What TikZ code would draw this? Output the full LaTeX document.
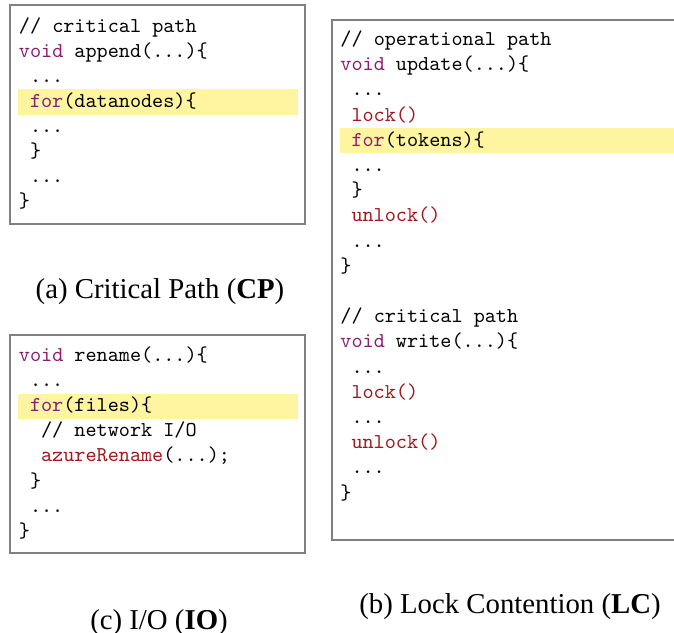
\documentclass[tikz,border=0pt]{standalone}
\usepackage{fontspec}
\newfontfamily\capfont{Liberation Serif}
\definecolor{kwpurple}{HTML}{8B1C6E}
\definecolor{lockred}{HTML}{A1161B}
\definecolor{hlyellow}{HTML}{FFF4A0}
\definecolor{framegray}{HTML}{808080}
\newcommand\kw[1]{\textcolor{kwpurple}{#1}}
\newcommand\lk[1]{\textcolor{lockred}{#1}}
\tikzset{
  code/.style={anchor=base west, inner sep=0pt, font=\ttfamily\fontsize{10}{12}\selectfont},
  frame/.style={draw=framegray, line width=1pt},
  hl/.style={fill=hlyellow, draw=none},
  captext/.style={anchor=base, inner sep=0pt, font=\capfont\fontsize{13.6}{16}\selectfont}
}
\begin{document}
\begin{tikzpicture}[x=0.4725pt,y=-0.4725pt]
\useasboundingbox (0,0) rectangle (674,632);
\clip (0,0) rectangle (674,632);

% ---- (a) critical path ----
\fill[hl] (18,89) rectangle (298,115);
\draw[frame] (10,5) rectangle (305,224);
\node[code] (a0) at (18.5,32) {// critical path};
\node[code] (a1) at (18.5,{32+1*25.1}) {\kw{void} append(...)\{};
\node[code] (a2) at (29.6,{32+2*25.1}) {...};
\node[code] (a3) at (29.6,{32+3*25.1}) {\kw{for}(datanodes)\{};
\node[code] (a4) at (29.6,{32+4*25.1}) {...};
\node[code] (a5) at (29.6,{32+5*25.1}) {\}};
\node[code] (a6) at (29.6,{32+6*25.1}) {...};
\node[code] (a7) at (18.5,{32+7*25.1}) {\}};
\node[captext] (capa) at (160,298) {(a) Critical Path (\textbf{CP})};

% ---- (b) lock contention ----
\fill[hl] (340,128) rectangle (700,153);
\draw[frame] (332,20) rectangle (700,540);
\node[code] (b0) at (340,45.5) {// operational path};
\node[code] (b1) at (340,{45.5+1*25.2}) {\kw{void} update(...)\{};
\node[code] (b2) at (351.1,{45.5+2*25.2}) {...};
\node[code] (b3) at (351.1,{45.5+3*25.2}) {\lk{lock()}};
\node[code] (b4) at (351.1,{45.5+4*25.2}) {\kw{for}(tokens)\{};
\node[code] (b5) at (351.1,{45.5+5*25.2}) {...};
\node[code] (b6) at (351.1,{45.5+6*25.2}) {\}};
\node[code] (b7) at (351.1,{45.5+7*25.2}) {\lk{unlock()}};
\node[code] (b8) at (351.1,{45.5+8*25.2}) {...};
\node[code] (b9) at (340,{45.5+9*25.2}) {\}};
\node[code] (b11) at (340,{45.5+11*25.2}) {// critical path};
\node[code] (b12) at (340,{45.5+12*25.2}) {\kw{void} write(...)\{};
\node[code] (b13) at (351.1,{45.5+13*25.2}) {...};
\node[code] (b14) at (351.1,{45.5+14*25.2}) {\lk{lock()}};
\node[code] (b15) at (351.1,{45.5+15*25.2}) {...};
\node[code] (b16) at (351.1,{45.5+16*25.2}) {\lk{unlock()}};
\node[code] (b17) at (351.1,{45.5+17*25.2}) {...};
\node[code] (b18) at (340,{45.5+18*25.2}) {\}};
\node[captext] (capb) at (510,613) {(b) Lock Contention (\textbf{LC})};

% ---- (c) I/O ----
\fill[hl] (18,394) rectangle (298,419);
\draw[frame] (10,335) rectangle (305,553);
\node[code] (c0) at (18.5,361.5) {\kw{void} rename(...)\{};
\node[code] (c1) at (29.6,{361.5+1*25.1}) {...};
\node[code] (c2) at (29.6,{361.5+2*25.1}) {\kw{for}(files)\{};
\node[code] (c3) at (40.7,{361.5+3*25.1}) {// network I/O};
\node[code] (c4) at (40.7,{361.5+4*25.1}) {\lk{azureRename}(...);};
\node[code] (c5) at (29.6,{361.5+5*25.1}) {\}};
\node[code] (c6) at (29.6,{361.5+6*25.1}) {...};
\node[code] (c7) at (18.5,{361.5+7*25.1}) {\}};
\node[captext] (capc) at (159,629) {(c) I/O (\textbf{IO})};
\end{tikzpicture}
\end{document}
